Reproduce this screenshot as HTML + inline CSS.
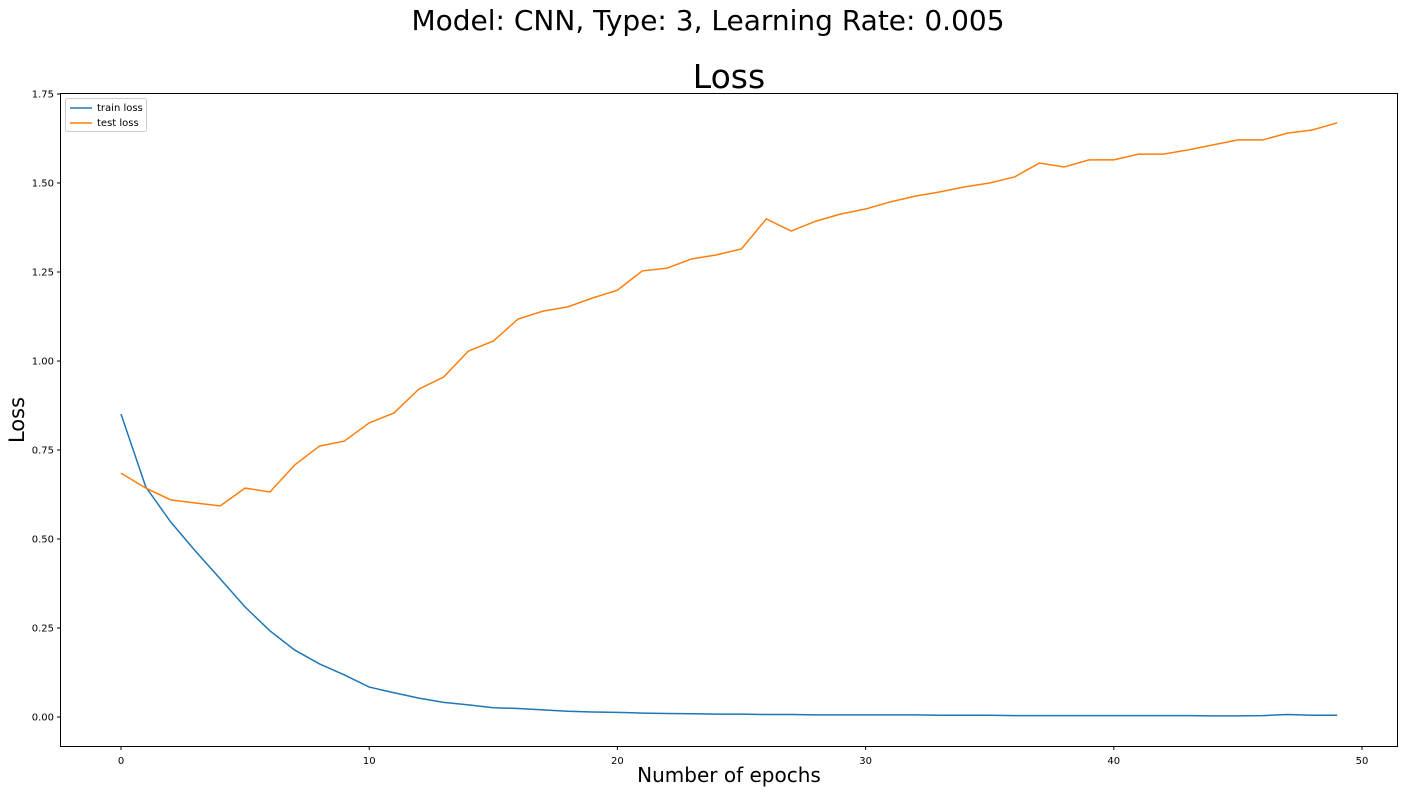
<!DOCTYPE html>
<html><head><meta charset="utf-8"><style>
body{margin:0;background:#fff;}
svg{display:block;font-family:"DejaVu Sans","Liberation Sans",sans-serif;}
</style></head><body>
<svg id="chart" width="1405" height="793">
<text x="708" y="30" text-anchor="middle" font-size="28">Model: CNN, Type: 3, Learning Rate: 0.005</text>
<text x="729" y="88" text-anchor="middle" font-size="33">Loss</text>
<text transform="translate(24,420) rotate(-90)" text-anchor="middle" font-size="21">Loss</text>
<text x="729" y="782" text-anchor="middle" font-size="20">Number of epochs</text>
<g id="axes"></g>
<g id="lines"></g>
<rect x="60.5" y="93.5" width="1337" height="653" fill="none" stroke="#000" stroke-width="1"/>
<g>
<rect x="65.5" y="98.5" width="81" height="33" rx="2" fill="#fff" stroke="#ccc"/>
<line x1="70" y1="108" x2="92" y2="108" stroke="#1f77b4" stroke-width="1.5"/>
<text x="97" y="111" font-size="10">train loss</text>
<line x1="70" y1="123" x2="92" y2="123" stroke="#ff7f0e" stroke-width="1.5"/>
<text x="97" y="126" font-size="10">test loss</text>
</g>
</svg>
<script>
const epochs=[...Array(50).keys()];
const trainLoss=[0.851,0.646,0.548,0.466,0.388,0.309,0.242,0.188,0.149,0.118,0.084,0.068,0.053,0.041,0.034,0.026,0.024,0.020,0.016,0.014,0.013,0.011,0.010,0.009,0.008,0.008,0.007,0.007,0.006,0.006,0.006,0.006,0.006,0.005,0.005,0.005,0.004,0.004,0.004,0.004,0.004,0.004,0.004,0.004,0.003,0.003,0.004,0.007,0.005,0.005];
const testLoss=[0.685,0.643,0.61,0.601,0.593,0.643,0.632,0.708,0.761,0.775,0.826,0.854,0.921,0.955,1.028,1.056,1.118,1.140,1.152,1.177,1.199,1.253,1.261,1.287,1.298,1.315,1.399,1.365,1.393,1.413,1.427,1.447,1.463,1.475,1.489,1.5,1.517,1.556,1.545,1.565,1.565,1.581,1.581,1.593,1.607,1.621,1.621,1.640,1.649,1.669];
const xTicks=[0,10,20,30,40,50];
const yTicks=[0,0.25,0.5,0.75,1.0,1.25,1.5,1.75];
const NS="http://www.w3.org/2000/svg";
const xs=v=>121+v*24.82;
const ys=v=>717-v*356;
const axes=document.getElementById('axes'),lines=document.getElementById('lines');
function mk(t,a,p){const e=document.createElementNS(NS,t);for(const k in a)e.setAttribute(k,a[k]);p.appendChild(e);return e;}
xTicks.forEach(t=>{
 const l=mk('line',{x1:xs(t),x2:xs(t),y1:746.5,y2:750,stroke:'#000'},axes);
 
 
 const tx=mk('text',{x:xs(t),y:764,'text-anchor':'middle','font-size':10},axes);tx.textContent=t;
 
 
});
yTicks.forEach(t=>{
 const l=mk('line',{x1:57,x2:60.5,y1:ys(t),y2:ys(t),stroke:'#000'},axes);
 
 
 const tx=mk('text',{x:54,y:ys(t)+3.5,'text-anchor':'end','font-size':10},axes);tx.textContent=t.toFixed(2);
 
 
});
function line(d,c,n){
 const p=mk('polyline',{points:d.map((v,i)=>xs(epochs[i])+','+ys(v)).join(' '),fill:'none',stroke:c,'stroke-width':1.5},lines);
 
 
}
line(trainLoss,'#1f77b4','train-loss-line');
line(testLoss,'#ff7f0e','test-loss-line');
</script>
</body></html>
